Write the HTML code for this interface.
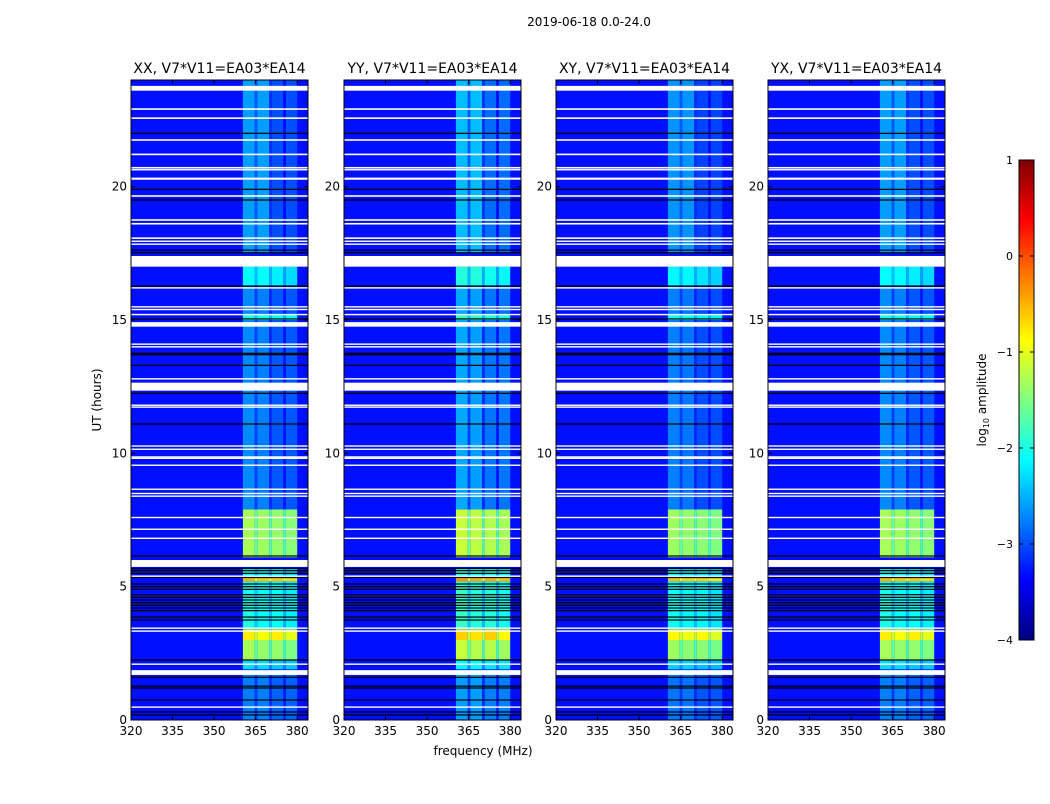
<!DOCTYPE html>
<html><head><meta charset="utf-8">
<style>
body{margin:0;background:#fff;width:1050px;height:800px;overflow:hidden;font-family:"DejaVu Sans",sans-serif}
svg text{font-family:"DejaVu Sans","Liberation Sans",sans-serif}
</style></head>
<body>
<svg id="fig" width="1050" height="800" xmlns="http://www.w3.org/2000/svg">
<text x="589" y="26" font-size="12" text-anchor="middle">2019-06-18 0.0-24.0</text>
<text x="483" y="755" font-size="12" text-anchor="middle">frequency (MHz)</text>
<text x="101" y="400" font-size="12" text-anchor="middle" transform="rotate(-90 101 400)">UT (hours)</text>
<g id="panels"></g>
<g id="cbar"></g>
</svg>
<script>
// ---- data ----
const panelTitles = ["XX, V7*V11=EA03*EA14","YY, V7*V11=EA03*EA14","XY, V7*V11=EA03*EA14","YX, V7*V11=EA03*EA14"];
const panelBoost = [0, 0.15, -0.05, 0];
const xTicks = [320,335,350,365,380];
const yTicks = [0,5,10,15,20];
const cbarTicks = [1,0,-1,-2,-3,-4];
const cbarLabels = ["1","0","\u22121","\u22122","\u22123","\u22124"];
const bandsMHz = [[360.4,364.7],[365.6,369.9],[370.8,375.0],[375.9,380.0]];
const baseLevel = -3.3;
// [startHour, endHour, band1, band2, band3, band4] log10 amplitude
const segments = [
 [0,1.7,-2.75,-2.75,-2.9,-2.9],
 [1.9,2.25,-2.3,-2.3,-2.4,-2.4],
 [2.25,3.0,-1.3,-1.4,-1.4,-1.5],
 [3.0,3.4,-0.8,-0.9,-0.8,-1.0],
 [3.4,5.2,-2.0,-2.1,-2.1,-2.2],
 [5.2,5.32,-0.5,-0.6,-0.6,-0.7],
 [5.32,5.7,-2.1,-2.2,-2.2,-2.3],
 [6.1,7.9,-1.3,-1.35,-1.4,-1.45],
 [7.9,15.0,-2.7,-2.75,-2.95,-2.95],
 [15.0,15.2,-2.0,-2.0,-2.1,-2.1],
 [15.2,16.3,-2.7,-2.75,-2.95,-2.95],
 [16.3,17.0,-2.1,-2.1,-2.2,-2.3],
 [17.5,24,-2.6,-2.6,-3.0,-3.0]
];
const whiteGaps = [[23.6,23.78],[22.88,22.94],[22.54,22.6],[21.72,21.78],[21.18,21.24],[20.68,20.74],[20.62,20.66],[20.26,20.34],[19.62,19.68],[18.72,18.78],[18.58,18.64],[18.04,18.1],[17.93,17.98],[17.82,17.87],[17.0,17.4],[16.18,16.23],[15.48,15.52],[15.38,15.42],[15.18,15.23],[14.75,14.92],[14.08,14.12],[13.98,14.02],[12.78,12.82],[12.35,12.65],[11.78,11.83],[11.72,11.76],[10.25,10.3],[10.14,10.18],[9.85,9.89],[9.8,9.84],[9.54,9.58],[8.64,8.68],[8.48,8.52],[8.38,8.42],[7.58,7.62],[7.14,7.18],[6.8,6.84],[5.74,6.0],[5.38,5.42],[3.43,3.47],[3.32,3.36],[2.08,2.12],[1.69,1.87],[0.47,0.51]];
const blackLines = [17.62,17.52,16.27,15.04,13.75,13.7,13.3,12.25,11.1,6.15,5.68,5.6,5.5,5.35,5.1,5.0,4.9,4.7,4.6,4.5,4.4,4.3,4.2,4.1,3.86,3.75,2.25,1.6,1.27,1.2,0.75,0.3,0.19,19.9,19.5,22.0];

// ---- helpers ----
const NS="http://www.w3.org/2000/svg";
function mk(tag,attrs,parent){const e=document.createElementNS(NS,tag);for(const k in attrs)e.setAttribute(k,attrs[k]);parent.appendChild(e);return e;}
function clamp(v){return Math.max(0,Math.min(1,v));}
function jet(t){t=clamp(t);const r=clamp(1.5-Math.abs(4*t-3)),g=clamp(1.5-Math.abs(4*t-2)),b=clamp(1.5-Math.abs(4*t-1));return `rgb(${Math.round(r*255)},${Math.round(g*255)},${Math.round(b*255)})`;}
function col(v){return jet((v+4)/5);}
const panelX=[131,344,556,768], PW=177, PT=80, PB=720;
const fMin=320, fMax=383.9, hMin=0, hMax=24;
function fx(px0,f){return px0+(f-fMin)/(fMax-fMin)*PW;}
function hy(h){return PB-(h-hMin)/(hMax-hMin)*(PB-PT);}

const panels=document.getElementById('panels');
panelX.forEach((x0,pi)=>{
  const g=mk('g',{},panels);
  
  
  const t=mk('text',{x:x0+PW/2,y:73,'font-size':14,'text-anchor':'middle'},g);
  t.textContent=panelTitles[pi];
  
  
  const bg=mk('rect',{x:x0,y:PT,width:PW,height:PB-PT,fill:col(baseLevel)},g);
  
  
  segments.forEach(s=>{
    for(let b=0;b<4;b++){
      const xa=fx(x0,bandsMHz[b][0]),xb=fx(x0,bandsMHz[b][1]);
      const r=mk('rect',{x:xa,y:hy(s[1]),width:xb-xa,height:hy(s[0])-hy(s[1]),fill:col(s[2+b]+panelBoost[pi])},g);
      
      
      if(b<3){const xc=fx(x0,bandsMHz[b+1][0]);
        const r2=mk('rect',{x:xb,y:hy(s[1]),width:xc-xb,height:hy(s[0])-hy(s[1]),fill:col((s[2+b]+s[3+b])/2-0.35)},g);
        
        }
    }
  });
  blackLines.forEach(h=>{
    const l=mk('rect',{x:x0,y:hy(h)-0.6,width:PW,height:1.2,fill:'#000'},g);
    
    
  });
  whiteGaps.forEach(w=>{
    const l=mk('rect',{x:x0,y:hy(w[1]),width:PW,height:Math.max(1.4,hy(w[0])-hy(w[1])),fill:'#fff'},g);
    
    
  });
  mk('rect',{x:x0,y:PT,width:PW,height:PB-PT,fill:'none',stroke:'#000','stroke-width':1},g);
  xTicks.forEach(f=>{
    const x=fx(x0,f);
    mk('line',{x1:x,x2:x,y1:PB,y2:PB-4,stroke:'#000'},g);
    mk('line',{x1:x,x2:x,y1:PT,y2:PT+4,stroke:'#000'},g);
    const tt=mk('text',{x:x,y:PB+15,'font-size':12,'text-anchor':'middle'},g);
    tt.textContent=f;
    
    
  });
  yTicks.forEach(h=>{
    const y=hy(h);
    mk('line',{x1:x0,x2:x0+4,y1:y,y2:y,stroke:'#000'},g);
    mk('line',{x1:x0+PW,x2:x0+PW-4,y1:y,y2:y,stroke:'#000'},g);
    const tt=mk('text',{x:x0-4,y:y+4,'font-size':12,'text-anchor':'end'},g);
    tt.textContent=h;
    
    
  });
});

// colorbar
const cb=document.getElementById('cbar');
const CX=1019,CW=15,CT=160,CB=640,vMax=1,vMin=-4;
function cy(v){return CB-(v-vMin)/(vMax-vMin)*(CB-CT);}
const defs=mk('defs',{},cb);
const grad=mk('linearGradient',{id:'jetg',x1:0,y1:1,x2:0,y2:0},defs);
for(let i=0;i<=8;i++){mk('stop',{offset:i/8,'stop-color':jet(i/8)},grad);}
mk('rect',{x:CX,y:CT,width:CW,height:CB-CT,fill:'url(#jetg)',stroke:'#000'},cb);
cbarTicks.forEach((v,i)=>{
  const y=cy(v);
  mk('line',{x1:CX,x2:CX+4,y1:y,y2:y,stroke:'#000'},cb);
  mk('line',{x1:CX+CW,x2:CX+CW-4,y1:y,y2:y,stroke:'#000'},cb);
  const tt=mk('text',{x:CX-6,y:y+4,'font-size':11,'text-anchor':'end'},cb);
  tt.textContent=cbarLabels[i];
  
  
});
const lab=mk('text',{x:986,y:400,'font-size':12,'text-anchor':'middle',transform:'rotate(-90 986 400)'},cb);
lab.innerHTML='log<tspan font-size="8" dy="3">10</tspan><tspan dy="-3"> amplitude</tspan>';


</script>
</body></html>
